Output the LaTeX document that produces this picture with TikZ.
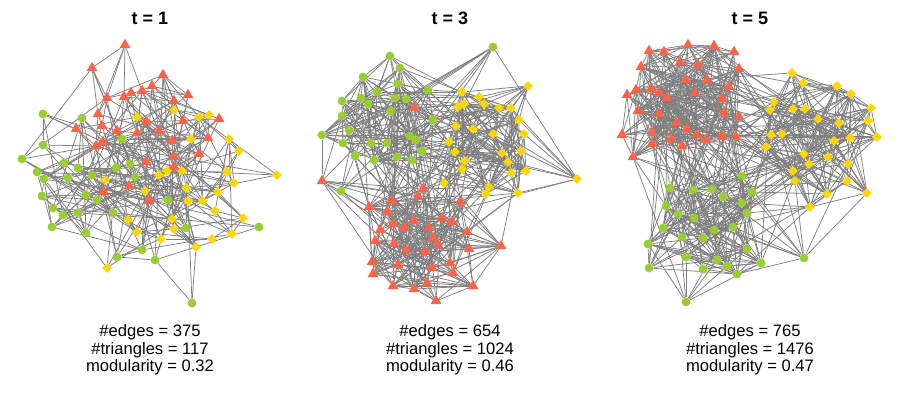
\documentclass[tikz,border=0pt]{standalone}
\usepackage{fontspec}
\setmainfont{Liberation Sans}
\usetikzlibrary{shapes.geometric,backgrounds}
\definecolor{colR}{HTML}{FF6347}
\definecolor{colG}{HTML}{9ACD32}
\definecolor{colY}{HTML}{FFD700}
\definecolor{colE}{HTML}{808080}
\tikzset{
  nodeR/.style={regular polygon, regular polygon sides=3, fill=colR, minimum size=12.6pt, inner sep=0pt},
  nodeG/.style={circle, fill=colG, minimum size=8.8pt, inner sep=0pt},
  nodeY/.style={diamond, fill=colY, minimum size=9.8pt, inner sep=0pt},
  netedge/.style={draw=colE, line width=0.75pt},
  titletext/.style={anchor=base, font=\bfseries\fontsize{18}{20}\selectfont},
  captext/.style={anchor=base, font=\fontsize{16.6}{18}\selectfont}
}
\def\netA{125/45/R, 92/68/R, 163/75/R, 152/86/R, 142/91/R, 131/93/R, 124/97/R, 107/98/R, 188/95/R, 174/101/R,
98/114/R, 183/121/R, 146/122/R, 219/119/R, 76/129/R, 102/126/R, 117/131/R, 137/133/R, 159/131/R, 172/141/R,
208/138/R, 103/142/R, 96/146/R, 174/157/R, 199/154/R, 146/162/R, 174/167/R, 129/186/R, 104/192/R, 149/201/R,
43/114/G, 82/118/G, 122/139/G, 43/145/G, 22/159/G, 64/163/G, 37/172/G, 78/168/G, 116/168/G, 130/164/G,
44/179/G, 68/178/G, 92/175/G, 135/177/G, 42/196/G, 86/195/G, 97/200/G, 53/208/G, 63/215/G, 78/213/G,
113/213/G, 168/200/G, 52/227/G, 86/233/G, 186/228/G, 142/250/G, 117/257/G, 155/260/G, 259/227/G, 192/303/G,
174/110/Y, 137/117/Y, 199/117/Y, 209/115/Y, 191/139/Y, 229/139/Y, 239/151/Y, 277/175/Y, 227/172/Y, 167/171/Y,
159/175/Y, 182/171/Y, 105/180/Y, 234/183/Y, 186/188/Y, 145/191/Y, 218/192/Y, 188/201/Y, 203/201/Y, 215/211/Y,
172/219/Y, 128/220/Y, 243/218/Y, 174/229/Y, 137/232/Y, 232/234/Y, 161/239/Y, 212/239/Y, 196/247/Y, 107/268/Y}
\def\netB{493/47/G, 390/56/G, 400/68/G, 363/77/G, 398/84/G, 377/92/G, 428/90/G, 342/101/G, 361/98/G, 368/104/G,
395/98/G, 406/99/G, 391/111/G, 342/116/G, 433/120/G, 349/130/G, 322/135/G, 343/143/G, 371/143/G, 387/143/G,
410/136/G, 416/140/G, 422/151/G, 355/156/G, 374/160/G, 397/157/G, 412/160/G, 341/191/G,
414/108/R, 322/181/R, 423/189/R, 418/197/R, 392/201/R, 369/207/R, 460/202/R, 387/212/R, 442/218/R, 452/222/R,
414/221/R, 393/224/R, 404/228/R, 429/228/R, 380/230/R, 467/232/R, 433/238/R, 375/241/R, 394/244/R, 438/245/R,
501/246/R, 406/250/R, 425/252/R, 469/249/R, 372/262/R, 398/265/R, 432/268/R, 450/263/R, 373/274/R, 453/273/R,
393/286/R, 414/289/R, 427/283/R, 473/286/R, 436/301/R,
462/92/Y, 528/86/Y, 479/97/Y, 484/104/Y, 458/107/Y, 464/104/Y, 499/108/Y, 511/108/Y, 519/120/Y, 456/126/Y,
473/129/Y, 493/134/Y, 524/134/Y, 449/142/Y, 455/152/Y, 502/153/Y, 521/151/Y, 508/162/Y, 465/161/Y, 462/169/Y,
511/173/Y, 526/171/Y, 577/179/Y, 444/183/Y, 489/187/Y, 486/194/Y, 518/193/Y}
\def\netC{649/51/R, 664/52/R, 688/45/R, 714/46/R, 734/52/R, 641/67/R, 680/62/R, 698/65/R, 739/69/R, 686/80/R,
707/80/R, 729/87/R, 627/95/R, 636/90/R, 651/89/R, 659/93/R, 667/98/R, 695/93/R, 722/99/R, 638/111/R,
659/114/R, 724/113/R, 739/117/R, 676/123/R, 687/129/R, 622/135/R, 652/133/R, 671/139/R, 697/135/R, 706/140/R,
722/136/R, 736/137/R, 652/144/R, 682/146/R, 633/157/R,
792/73/Y, 803/83/Y, 837/86/Y, 851/94/Y, 774/102/Y, 770/110/Y, 793/109/Y, 805/109/Y, 871/108/Y, 818/119/Y,
839/123/Y, 868/121/Y, 771/135/Y, 782/134/Y, 850/138/Y, 877/137/Y, 834/141/Y, 766/147/Y, 804/154/Y, 828/157/Y,
809/164/Y, 848/164/Y, 793/171/Y, 795/181/Y, 847/181/Y, 827/194/Y, 867/193/Y, 810/207/Y,
742/176/G, 670/188/G, 693/190/G, 712/189/G, 723/197/G, 752/192/G, 666/206/G, 742/203/G, 678/214/G, 694/218/G,
747/213/G, 663/228/G, 733/227/G, 714/230/G, 682/237/G, 703/238/G, 648/244/G, 747/249/G, 686/257/G, 717/260/G,
727/266/G, 703/269/G, 649/268/G, 761/263/G, 804/258/G, 737/274/G, 686/302/G}
\newdimen\sumin \newdimen\sumout \newcount\nin \newcount\nout
\newcommand\drawnet[5]{%
  \foreach \xa/\ya/\ca [count=\i] in #1 {\node[node\ca] (#2\i) at (\xa,\ya) {};}
  \global\sumin=0pt \global\sumout=0pt \global\nin=0 \global\nout=0
  \foreach \xa/\ya/\ca [count=\i] in #1 {
    \foreach \xb/\yb/\cb [count=\j] in #1 {
      \ifnum\j>\i\relax
        \pgfmathsetmacro\ff{exp(-veclen(\xa-\xb,\ya-\yb)/#5)}
        \if\ca\cb \global\advance\sumin by \ff pt \global\advance\nin by 1
        \else \global\advance\sumout by \ff pt \global\advance\nout by 1 \fi
      \fi
    }
  }
  \pgfmathsetmacro\kin{#3*\the\nin/\sumin}
  \pgfmathsetmacro\kout{#4*\the\nout/\sumout}
  \begin{pgfonlayer}{background}
  \foreach \xa/\ya/\ca [count=\i] in #1 {
    \foreach \xb/\yb/\cb [count=\j] in #1 {
      \ifnum\j>\i\relax
        \if\ca\cb \let\kk\kin \else \let\kk\kout \fi
        \pgfmathsetmacro\pp{\kk*exp(-veclen(\xa-\xb,\ya-\yb)/#5)}
        \pgfmathsetmacro\rr{rnd}
        \ifdim\rr pt<\pp pt\relax \draw[netedge] (#2\i) -- (#2\j);\fi
      \fi
    }
  }
  \end{pgfonlayer}
}
\begin{document}
\begin{tikzpicture}[x=1pt,y=-1pt]
\pgfmathsetseed{2024}
\useasboundingbox (0,0) rectangle (900,400);
\drawnet{\netA}{a}{0.187}{0.049}{85}
\drawnet{\netB}{b}{0.39}{0.051}{80}
\drawnet{\netC}{c}{0.46}{0.057}{90}
\begin{pgfonlayer}{background}
\draw[netedge] (a60) -- (a89) (a60) -- (a78) (a60) -- (a58);
\end{pgfonlayer}
\node[titletext] (t1) at (150,24) {t = 1};
\node[titletext] (t3) at (450,24) {t = 3};
\node[titletext] (t5) at (750,24) {t = 5};
\node[captext] (e1) at (150,336) {\#edges = 375};
\node[captext] (r1) at (150,354) {\#triangles = 117};
\node[captext] (m1) at (150,371) {modularity = 0.32};
\node[captext] (e3) at (450,336) {\#edges = 654};
\node[captext] (r3) at (450,354) {\#triangles = 1024};
\node[captext] (m3) at (450,371) {modularity = 0.46};
\node[captext] (e5) at (750,336) {\#edges = 765};
\node[captext] (r5) at (750,354) {\#triangles = 1476};
\node[captext] (m5) at (750,371) {modularity = 0.47};
\end{tikzpicture}
\end{document}
